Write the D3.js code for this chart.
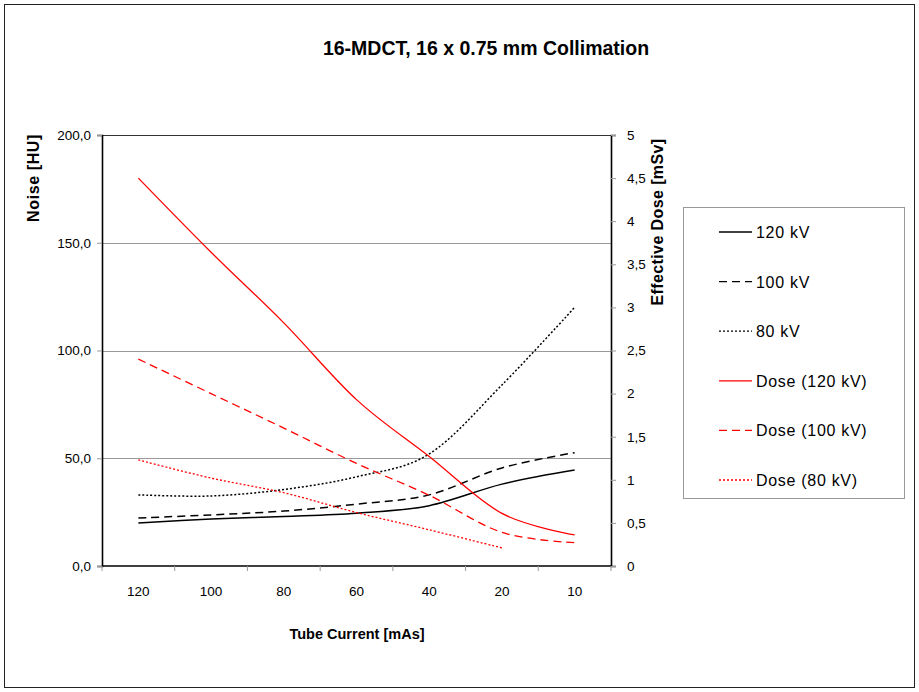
<!DOCTYPE html>
<html>
<head>
<meta charset="utf-8">
<script src="https://cdn.jsdelivr.net/npm/d3@7"></script>
<style>
  body { margin: 0; background: #fff; }
  text { font-family: "Liberation Sans", Arial, sans-serif; fill: #000; }
</style>
</head>
<body>
<div id="chart"></div>
<script>
// tube current categories (x axis, reversed order as in the original)
const categories = ["120", "100", "80", "60", "40", "20", "10"];

// noise [HU], left axis
const noise120 = [20, 21.8, 23, 24.5, 28, 38, 44.5];
const noise100 = [22.3, 23.7, 25.5, 28.7, 33, 45.5, 52.6];
const noise80 = [33, 32.5, 35.5, 41.4, 52, 84, 120];

// effective dose [mSv], right axis
const dose120 = [4.5, 3.64, 2.82, 1.93, 1.27, 0.61, 0.36];
const dose100 = [2.4, 2.0, 1.6, 1.19, 0.82, 0.39, 0.27];
const dose80 = [1.23, 1.02, 0.85, 0.62, 0.42, 0.21, null];

const leftTicks = [0, 50, 100, 150, 200];
const rightTicks = [0, 0.5, 1, 1.5, 2, 2.5, 3, 3.5, 4, 4.5, 5];

const series = [
  { name: "120 kV", values: noise120, axis: "left", color: "#000", dash: null },
  { name: "100 kV", values: noise100, axis: "left", color: "#000", dash: "8,5" },
  { name: "80 kV", values: noise80, axis: "left", color: "#000", dash: "2,2" },
  { name: "Dose (120 kV)", values: dose120, axis: "right", color: "#ff0000", dash: null },
  { name: "Dose (100 kV)", values: dose100, axis: "right", color: "#ff0000", dash: "8,5" },
  { name: "Dose (80 kV)", values: dose80, axis: "right", color: "#ff0000", dash: "2,2" }
];

const W = 919, H = 692;
const plot = { left: 102, right: 611, top: 135, bottom: 566 };

const svg = d3.select("#chart").append("svg")
    .attr("width", W)
    .attr("height", H);

// outer chart border
svg.append("rect")
    .attr("x", 4.5).attr("y", 4.5)
    .attr("width", W - 9).attr("height", H - 9)
    .attr("fill", "#fff")
    .attr("stroke", "#222")
    .attr("stroke-width", 1);

const x = d3.scaleBand()
    .domain(categories)
    .range([plot.left, plot.right]);

const yL = d3.scaleLinear().domain([0, 200]).range([plot.bottom, plot.top]);
const yR = d3.scaleLinear().domain([0, 5]).range([plot.bottom, plot.top]);

const fmt = d3.formatLocale({ decimal: ",", thousands: ".", grouping: [3], currency: ["", ""] });

// gridlines
svg.append("g")
  .selectAll("line")
  .data(leftTicks.filter(d => d > 0 && d < 200))
  .enter().append("line")
    .attr("x1", plot.left).attr("x2", plot.right)
    .attr("y1", d => Math.round(yL(d)) + 0.5)
    .attr("y2", d => Math.round(yL(d)) + 0.5)
    .attr("stroke", "#999")
    .attr("stroke-width", 1);

// plot frame top
svg.append("line")
    .attr("x1", plot.left).attr("x2", plot.right)
    .attr("y1", plot.top + 0.5).attr("y2", plot.top + 0.5)
    .attr("stroke", "#333");

// left axis
const gL = svg.append("g")
    .attr("transform", `translate(${plot.left},0)`)
    .call(d3.axisLeft(yL).tickValues(leftTicks).tickSize(5).tickPadding(6)
        .tickFormat(fmt.format(".1f")));

// right axis
const gR = svg.append("g")
    .attr("transform", `translate(${plot.right},0)`)
    .call(d3.axisRight(yR).tickValues(rightTicks).tickSize(5).tickPadding(11)
        .tickFormat(d => fmt.format("~g")(d)));

// bottom axis, ticks between categories
const gB = svg.append("g")
    .attr("transform", `translate(0,${plot.bottom})`)
    .call(d3.axisBottom(x).tickSize(0).tickPadding(20));

gB.selectAll(".tickmark")
  .data(d3.range(categories.length + 1))
  .enter().append("line")
    .attr("x1", i => plot.left + i * x.step())
    .attr("x2", i => plot.left + i * x.step())
    .attr("y1", 0).attr("y2", 5)
    .attr("stroke", "#999");

[gL, gR, gB].forEach(g => {
  g.select(".domain").attr("stroke", "#000").attr("stroke-width", 1.6);
  g.selectAll(".tick line").attr("stroke", "#999");
  g.selectAll("text")
    .style("font-family", '"Liberation Sans", Arial, sans-serif')
    .style("font-size", "13.5px")
    .attr("fill", "#000");
});
gB.select(".domain").attr("d", `M${plot.left},0H${plot.right}`);

// lines
const line = (scale) => d3.line()
    .defined(d => d.v != null)
    .x(d => x(d.c) + x.bandwidth() / 2)
    .y(d => scale(d.v))
    .curve(d3.curveCatmullRom.alpha(0));

series.forEach(s => {
  const pts = categories.map((c, i) => ({ c: c, v: s.values[i] }));
  svg.append("path")
      .datum(pts)
      .attr("d", line(s.axis === "left" ? yL : yR))
      .attr("fill", "none")
      .attr("stroke", s.color)
      .attr("stroke-width", s.axis === "left" ? 1.5 : 1.3)
      .attr("stroke-dasharray", s.dash);
});

// title
svg.append("text")
    .attr("x", 486).attr("y", 55)
    .attr("text-anchor", "middle")
    .style("font-size", "19.5px")
    .style("font-weight", "bold")
    .text("16-MDCT, 16 x 0.75 mm Collimation");

// axis titles
svg.append("text")
    .attr("transform", "translate(39,178) rotate(-90)")
    .attr("text-anchor", "middle")
    .style("font-size", "16px")
    .style("font-weight", "bold")
    .style("letter-spacing", "0.6px")
    .text("Noise [HU]");

svg.append("text")
    .attr("transform", "translate(663,222) rotate(-90)")
    .attr("text-anchor", "middle")
    .style("font-size", "16px")
    .style("font-weight", "bold")
    .style("letter-spacing", "0.4px")
    .text("Effective Dose [mSv]");

svg.append("text")
    .attr("x", 357).attr("y", 639)
    .attr("text-anchor", "middle")
    .style("font-size", "14.5px")
    .style("font-weight", "bold")
    .text("Tube Current [mAs]");

// legend
const legend = svg.append("g");
legend.append("rect")
    .attr("x", 683.5).attr("y", 207.5)
    .attr("width", 221).attr("height", 291)
    .attr("fill", "#fff")
    .attr("stroke", "#999");

const item = legend.selectAll(".item")
  .data(series)
  .enter().append("g")
    .attr("transform", (d, i) => `translate(0,${232 + i * 49.6})`);

item.append("line")
    .attr("x1", 719).attr("x2", 752)
    .attr("y1", 0).attr("y2", 0)
    .attr("stroke", d => d.color)
    .attr("stroke-width", 1.3)
    .attr("stroke-dasharray", d => d.dash);

item.append("text")
    .attr("x", 756).attr("y", 6)
    .style("font-size", "16px")
    .style("letter-spacing", "0.7px")
    .text(d => d.name);
</script>
</body>
</html>
